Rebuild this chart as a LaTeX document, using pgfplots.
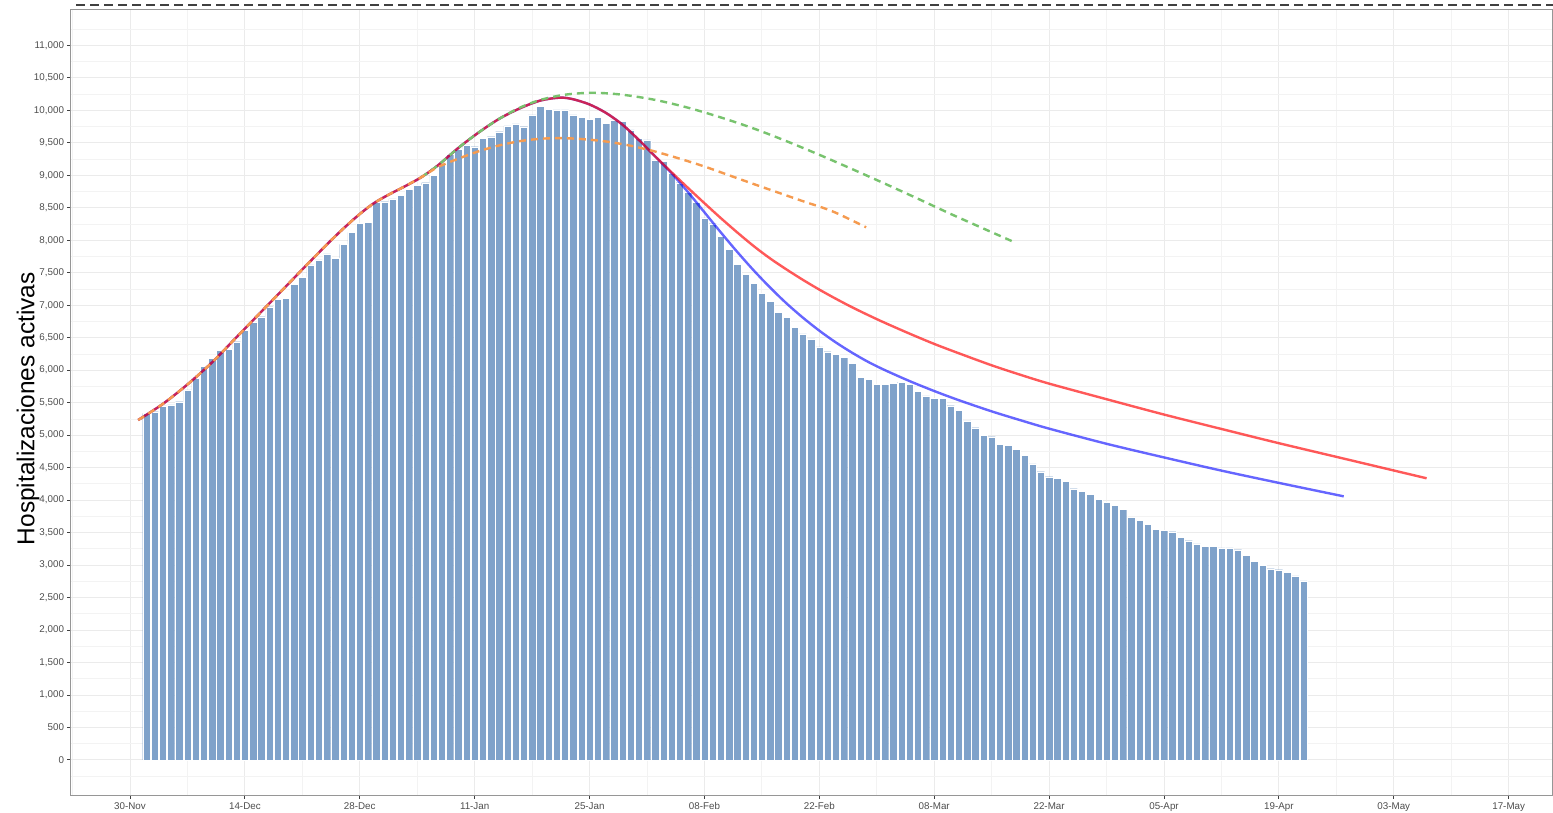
\documentclass[border=0pt]{standalone}
\usepackage{fontspec}
\setmainfont{Liberation Sans}
\usepackage{pgfplots}
\pgfplotsset{compat=1.18}

\definecolor{barblue}{RGB}{127,162,202}
\definecolor{gridmaj}{RGB}{235,235,235}
\definecolor{gridmin}{RGB}{243,243,243}
\definecolor{framegray}{RGB}{150,150,150}
\definecolor{ticktext}{RGB}{77,77,77}
\definecolor{lgreen}{RGB}{120,195,110}
\definecolor{lorange}{RGB}{245,155,80}

\begin{document}
\begin{tikzpicture}
\useasboundingbox (-71pt,-17pt) rectangle (1482pt,795pt);
\begin{axis}[
    scale only axis,
    width=1482pt, height=785pt,
    xmin=-7.19, xmax=173.4,
    ymin=-539, ymax=11544,
    clip=false,
    axis line style={framegray, line width=1pt},
    xtick={0,14,...,168},
    xticklabels={30-Nov,14-Dec,28-Dec,11-Jan,25-Jan,08-Feb,22-Feb,08-Mar,22-Mar,05-Apr,19-Apr,03-May,17-May},
    minor xtick={-7,7,...,161},
    ytick={0,500,...,11000},
    minor ytick={-250,250,...,11250},
    grid=both,
    major grid style={gridmaj, line width=1pt},
    minor grid style={gridmin, line width=0.8pt},
    tick align=outside,
    major tick length=3.5pt,
    minor tick length=0pt,
    tick style={black!75, line width=1pt},
    xtick pos=bottom, ytick pos=left,
    ticklabel style={font=\fontsize{9.8}{11}\selectfont, text=ticktext},
    xticklabel style={text height=7pt, text depth=2pt},
    scaled y ticks=false,
    yticklabel style={/pgf/number format/.cd, fixed, precision=0, 1000 sep={,}, assume math mode=true},
    ylabel={Hospitalizaciones activas},
    ylabel style={font=\fontsize{24.4}{28}\selectfont, at={(axis description cs:-0.029,0.492)}, anchor=center},
]

% active hospitalisations, one bar per day (day 0 = 30-Nov)
\addplot[ybar, bar width=0.9, fill=barblue, draw=white, line width=0.3pt] coordinates {
(2,5336) (3,5361) (4,5449) (5,5464) (6,5515) (7,5695) (8,5875) (9,6064) (10,6182) (11,6310)
(12,6321) (13,6439) (14,6618) (15,6737) (16,6823) (17,6977) (18,7091) (19,7106) (20,7322) (21,7429)
(22,7619) (23,7696) (24,7790) (25,7722) (26,7937) (27,8122) (28,8260) (29,8275) (30,8583) (31,8593)
(32,8635) (33,8696) (34,8783) (35,8850) (36,8886) (37,9004) (38,9183) (39,9321) (40,9398) (41,9466)
(42,9440) (43,9568) (44,9594) (45,9671) (46,9760) (47,9791) (48,9748) (49,9928) (50,10066) (51,10020)
(52,10005) (53,10005) (54,9928) (55,9892) (56,9860) (57,9892) (58,9800) (59,9851) (60,9835) (61,9697)
(62,9568) (63,9543) (64,9230) (65,9210) (66,9030) (67,8886) (68,8740) (69,8580) (70,8345) (71,8255)
(72,8065) (73,7865) (74,7634) (75,7480) (76,7337) (77,7183) (78,7055) (79,6891) (80,6814) (81,6660)
(82,6557) (83,6480) (84,6357) (85,6285) (86,6239) (87,6193) (88,6106) (89,5885) (90,5859) (91,5782)
(92,5787) (93,5797) (94,5815) (95,5787) (96,5679) (97,5603) (98,5566) (99,5566) (100,5453) (101,5387)
(102,5218) (103,5115) (104,4997) (105,4976) (106,4858) (107,4848) (108,4781) (109,4689) (110,4556) (111,4438)
(112,4361) (113,4335) (114,4294) (115,4176) (116,4140) (117,4085) (118,4012) (119,3961) (120,3920) (121,3858)
(122,3740) (123,3684) (124,3623) (125,3555) (126,3530) (127,3514) (128,3432) (129,3376) (130,3325) (131,3289)
(132,3289) (133,3263) (134,3263) (135,3237) (136,3150) (137,3058) (138,3001) (139,2945) (140,2929) (141,2889)
(142,2832) (143,2755)
};

% blue projection
\addplot[blue, draw opacity=0.6, line width=2.4pt, smooth] coordinates {
(1,5233) (4,5480) (7,5780) (10,6120) (13,6510) (16,6900) (19,7290) (22,7680) (25,8060) (27.5,8350)
(29.6,8560) (31.5,8700) (33.5,8830) (35.5,8970) (37.5,9150) (40,9420) (42.5,9660) (45,9870) (47.5,10030)
(50,10150) (52.4,10195) (54,10170) (56,10090) (58,9960) (60,9780) (62,9545) (64,9290)
(66,9030) (68,8740) (70,8430) (72,8120) (74,7820) (76,7536) (78,7272) (80,7028) (82,6808)
(84,6608) (86,6428) (88,6268) (90,6124) (92,6000) (95,5832) (98,5679) (101,5538) (105,5366)
(108.5,5230) (112,5100) (119,4867) (126,4657) (133,4454) (140,4265) (147.9,4058)
};

% red projection
\addplot[red, draw opacity=0.65, line width=2.4pt, smooth] coordinates {
(1,5233) (4,5480) (7,5780) (10,6120) (13,6510) (16,6900) (19,7290) (22,7680) (25,8060) (27.5,8350)
(29.6,8560) (31.5,8700) (33.5,8830) (35.5,8970) (37.5,9150) (40,9420) (42.5,9660) (45,9870) (47.5,10030)
(50,10150) (52.4,10195) (54,10170) (56,10090) (58,9960) (60,9780) (62,9545) (64,9290)
(66,9045) (68,8805) (70,8570) (72,8340) (74,8120) (76,7910) (78,7720) (80,7550) (82,7390)
(84,7240) (86,7100) (88,6968) (90,6845) (92,6728) (95,6562) (98,6404) (101,6260) (105,6075)
(108.5,5929) (112,5793) (119,5553) (126,5317) (133,5095) (140,4876) (149,4606) (158,4336)
};

% green dashed projection
\addplot[lgreen, line width=2.4pt, dash pattern=on 7pt off 5pt, smooth] coordinates {
(35.5,8970) (37.5,9150) (40,9420) (42.5,9660) (45,9870) (47.5,10040) (50,10160) (53,10240) (56.4,10270)
(60,10240) (64,10160) (68,10040) (72,9890) (76,9720) (80,9525) (84,9315) (88,9095) (92,8870)
(96,8640) (100,8405) (104,8180) (107.9,7962)
};

% orange dashed projection
\addplot[lorange, line width=2.4pt, dash pattern=on 7pt off 5pt, smooth] coordinates {
(1,5233) (4,5480) (7,5780) (10,6120) (13,6510) (16,6900) (19,7290) (22,7680) (25,8060) (27.5,8350)
(29.6,8560) (31.5,8700) (33.5,8830) (35.5,8970) (37.5,9125) (40,9255) (42.5,9370) (45,9460)
(47.5,9525) (50,9562) (52.5,9572) (55,9558) (58,9520) (61,9455) (64,9365) (67,9255) (70,9135)
(73,9000) (76,8865) (79,8733) (82,8601) (85.6,8445) (89.7,8199)
};

% capacity line above the panel
\addplot[black!75, line width=1.8pt, dash pattern=on 9pt off 5pt] coordinates {(-6.58,11621) (173.4,11621)};

\end{axis}
\end{tikzpicture}
\end{document}
